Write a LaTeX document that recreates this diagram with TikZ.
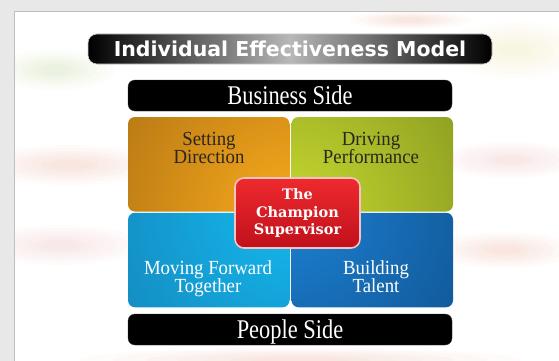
\documentclass[tikz,border=0pt]{standalone}
\usepackage{fontspec}
\setmainfont{Liberation Serif}
\newfontfamily\titlefont{DejaVu Sans}
\newfontfamily\quadfont[FakeStretch=0.94]{Liberation Serif}
\newfontfamily\sidefont[FakeStretch=0.83]{Liberation Serif}
\newfontfamily\champfont{DejaVu Serif}
\definecolor{bggray}{HTML}{E8E8E8}
\definecolor{orgdark}{HTML}{84540F}
\definecolor{orgbright}{HTML}{FAAA1C}
\definecolor{grnbright}{HTML}{C6D92E}
\definecolor{grndark}{HTML}{64721A}
\definecolor{cyabright}{HTML}{14B8EE}
\definecolor{cyadark}{HTML}{156A9E}
\definecolor{blubright}{HTML}{1C80D0}
\definecolor{bludark}{HTML}{093A70}
\definecolor{darktext}{HTML}{2A2620}
\definecolor{redtop}{HTML}{EE2A2E}
\definecolor{redbot}{HTML}{C0101C}
\definecolor{pinkedge}{HTML}{F2C4C4}
\definecolor{peach}{HTML}{F6B8A0}
\definecolor{softgreen}{HTML}{C8E0A0}
\definecolor{softyellow}{HTML}{EEE8A8}
\definecolor{softpink}{HTML}{F4C0C0}
\tikzset{
  quad/.style={rectangle, rounded corners=7pt, inner sep=0pt,
    minimum width=161.5pt, minimum height=94.5pt},
  qtext/.style={font=\quadfont\fontsize{20}{18.5}\selectfont, align=center,
    inner sep=0pt, anchor=north},
  sidebar/.style={rectangle, rounded corners=7pt, fill=black, draw=black!80,
    minimum width=324pt, minimum height=31pt, inner sep=0pt,
    text=white, font=\sidefont\fontsize{27}{27}\selectfont,
    text height=18pt, text depth=0pt},
  titlebar/.style={rectangle, rounded corners=9pt, draw=gray!40, line width=0.6pt,
    left color=black, right color=black, middle color=black!28,
    minimum width=404pt, minimum height=30pt, inner sep=0pt,
    text=white, font=\titlefont\bfseries\fontsize{20.5}{20.5}\selectfont,
    text height=15pt, text depth=0pt},
  champbox/.style={rectangle, rounded corners=9pt, draw=pinkedge, line width=1.6pt,
    top color=redtop, bottom color=redbot,
    minimum width=125pt, minimum height=70pt, inner sep=0pt,
    text=white, align=center, font=\champfont\bfseries\fontsize{14.5}{17.5}\selectfont},
}
% soft blob: #1 colour, #2 centre, #3 x radius, #4 y radius
\newcommand{\softblob}[4]{%
  \foreach \s in {1,0.85,0.7,0.56,0.44,0.32,0.22}{%
    \fill[#1, fill opacity=0.05] #2 ellipse ({#3*\s} and {#4*\s});}}
\begin{document}
\begin{tikzpicture}[x=1pt, y=-1pt]
\useasboundingbox (0,0) rectangle (559,361);
% background frame and panel
\fill[bggray] (0,0) rectangle (559,361);
\fill[white] (14,12) rectangle (559,361);
\begin{scope}
\clip (14,12) rectangle (559,361);
\softblob{peach}{(70,165)}{90}{20}
\softblob{softpink}{(60,245)}{80}{20}
\softblob{softgreen}{(55,70)}{60}{20}
\softblob{softyellow}{(515,50)}{70}{28}
\softblob{softpink}{(510,160)}{70}{18}
\softblob{peach}{(505,250)}{70}{18}
\softblob{peach}{(300,360)}{220}{12}
\softblob{peach}{(410,20)}{60}{9}
\end{scope}
\draw[black!25, line width=1pt] (14,361) -- (14,12) -- (559,12);
% title
\node[titlebar] (title) at (290,49) {Individual Effectiveness Model};
% side bars
\node[sidebar] (business) at (290,95.5) {Business Side};
\node[sidebar] (people) at (290,329.5) {People Side};
% centre of the grid
\coordinate (ctr) at (290.5,212);
% quadrants
\node[quad, path picture={\shade[inner color=orgbright, outer color=orgdark] (ctr) circle (350pt);}] (sd) at (208.75,164.25) {};
\node[quad, path picture={\shade[inner color=grnbright, outer color=grndark] (ctr) circle (350pt);}] (dp) at (372.25,164.25) {};
\node[quad, path picture={\shade[inner color=cyabright, outer color=cyadark] (ctr) circle (350pt);}] (mf) at (208.75,260) {};
\node[quad, path picture={\shade[inner color=blubright, outer color=bludark] (ctr) circle (350pt);}] (bt) at (372.25,260) {};
% quadrant texts
\node[qtext, text=darktext] (sdt) at (209,132) {Setting\\Direction};
\node[qtext, text=darktext] (dpt) at (371,132) {Driving\\Performance};
\node[qtext, text=white] (mft) at (208,260) {Moving Forward\\Together};
\node[qtext, text=white] (btt) at (376,260) {Building\\Talent};
% centre box
\node[champbox] (champ) at (297.5,213) {The\\Champion\\Supervisor};
\end{tikzpicture}
\end{document}
